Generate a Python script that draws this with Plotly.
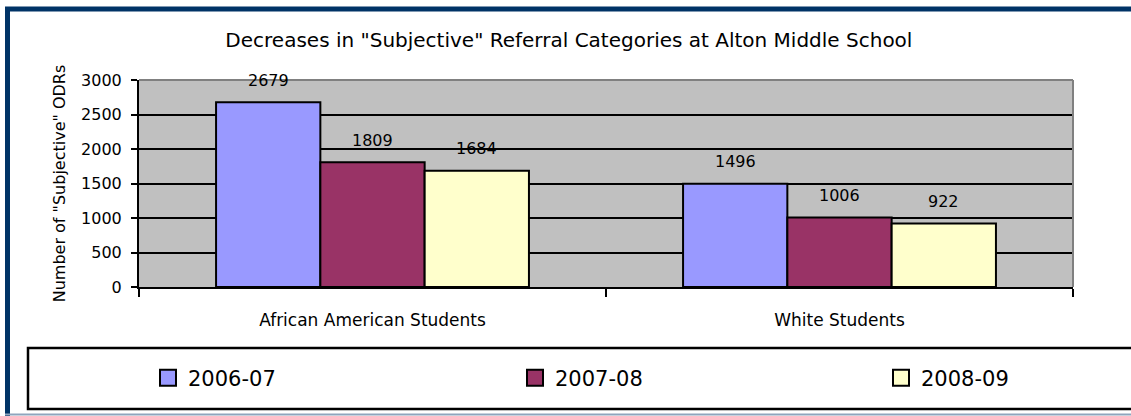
import plotly.graph_objects as go

# ---- data ----
categories = ["African American Students", "White Students"]
series_names = ["2006-07", "2007-08", "2008-09"]
values_2006_07 = [2679, 1496]
values_2007_08 = [1809, 1006]
values_2008_09 = [1684, 922]
series_values = [values_2006_07, values_2007_08, values_2008_09]
y_ticks = [0, 500, 1000, 1500, 2000, 2500, 3000]

title_text = 'Decreases in "Subjective" Referral Categories at Alton Middle School'
y_title = 'Number of "Subjective" ODRs'

# ---- style ----
colors = ["#9999FF", "#993366", "#FFFFCC"]
FONT = "DejaVu Sans"
W, H = 1131, 416
L, R, T, B = 139, 58, 80, 129
BARGAP = 0.33
PW = W - L - R
PH = H - T - B
legend_px = [148, 515, 881]
legend_names = ["legend", "legend2", "legend3"]


def px_x(p):
    return (p - L) / PW


def px_y(p):
    return (H - B - p) / PH


fig = go.Figure()
for name, vals, col in zip(series_names, series_values, colors):
    fig.add_trace(go.Bar(
        name=name, x=categories, y=vals, showlegend=False,
        marker=dict(color=col, line=dict(color="black", width=2)),
    ))
# legend entries (square swatches)
for name, col, lg in zip(series_names, colors, legend_names):
    fig.add_trace(go.Scatter(
        name=name, x=[None], y=[None], mode="markers", legend=lg,
        marker=dict(symbol="square", size=16, color=col,
                    line=dict(color="black", width=2)),
    ))

# data labels above bars
n = len(series_values)
bw = (1 - BARGAP) / n
annotations = []
for j, vals in enumerate(series_values):
    for i, v in enumerate(vals):
        annotations.append(dict(
            x=i + (j - (n - 1) / 2) * bw, y=v, xref="x", yref="y",
            text=str(v), showarrow=False, yshift=22,
            font=dict(family=FONT, size=16, color="black"),
        ))

shapes = [
    dict(type="line", xref="paper", yref="paper", x0=0, x1=1, y0=1, y1=1,
         line=dict(color="#808080", width=2), layer="above"),
    dict(type="line", xref="paper", yref="paper", x0=1, x1=1, y0=0, y1=1,
         line=dict(color="#808080", width=2), layer="above"),
    dict(type="rect", xref="paper", yref="paper",
         x0=px_x(28), x1=px_x(1140), y0=px_y(409), y1=px_y(348),
         line=dict(color="black", width=2.5), layer="above"),
    dict(type="line", xref="paper", yref="paper",
         x0=px_x(7.5), x1=px_x(7.5), y0=px_y(9), y1=px_y(416),
         line=dict(color="#003366", width=5), layer="above"),
    dict(type="line", xref="paper", yref="paper",
         x0=px_x(5), x1=px_x(1140), y0=px_y(9), y1=px_y(9),
         line=dict(color="#003366", width=5), layer="above"),
    dict(type="line", xref="paper", yref="paper",
         x0=px_x(5), x1=px_x(1140), y0=px_y(414.5), y1=px_y(414.5),
         line=dict(color="#8FA5BD", width=2), layer="above"),
]

legend_common = dict(orientation="h", xanchor="left", y=px_y(378), yanchor="middle",
                     font=dict(family=FONT, size=21, color="black"),
                     bgcolor="rgba(0,0,0,0)", borderwidth=0)

fig.update_layout(
    width=W, height=H,
    margin=dict(l=L, r=R, t=T, b=B, autoexpand=False),
    paper_bgcolor="white", plot_bgcolor="#C0C0C0",
    barmode="group", bargap=BARGAP, bargroupgap=0,
    font=dict(family=FONT, color="black"),
    title=dict(text=title_text, x=0.503, xanchor="center", y=1 - 40 / H, yanchor="middle",
               font=dict(family=FONT, size=20, color="black")),
    showlegend=True,
    legend=dict(x=px_x(legend_px[0]), **legend_common),
    legend2=dict(x=px_x(legend_px[1]), **legend_common),
    legend3=dict(x=px_x(legend_px[2]), **legend_common),
    annotations=annotations,
    shapes=shapes,
    xaxis=dict(
        showline=True, linecolor="black", linewidth=2,
        ticks="outside", tickson="boundaries", ticklen=8, tickwidth=2, tickcolor="black",
        ticklabelstandoff=17,
        tickfont=dict(family=FONT, size=17, color="black"),
        showgrid=False, zeroline=False,
    ),
    yaxis=dict(
        range=[0, 3000], tickvals=y_ticks,
        showline=True, linecolor="black", linewidth=2,
        ticks="outside", ticklen=6, tickwidth=2, tickcolor="black",
        ticklabelstandoff=6,
        tickfont=dict(family=FONT, size=16, color="black"),
        showgrid=True, gridcolor="black", gridwidth=2, zeroline=False,
        title=dict(text=y_title, standoff=11,
                   font=dict(family=FONT, size=16, color="black")),
    ),
)

fig.write_html("out.html", config={"displayModeBar": False},
               post_script="document.body.style.margin='0';")
